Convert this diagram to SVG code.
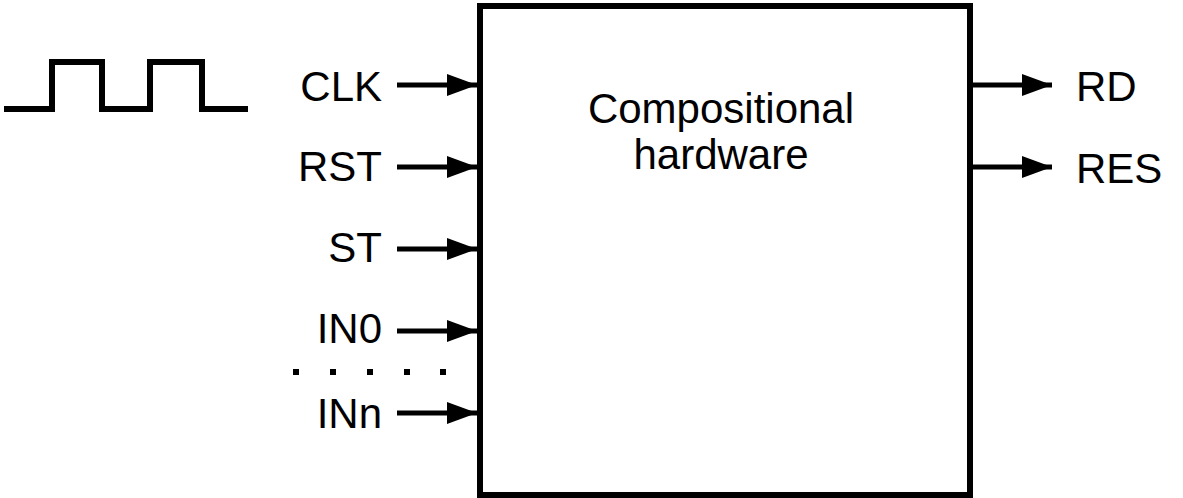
<svg xmlns="http://www.w3.org/2000/svg" width="1183" height="498" viewBox="0 0 1183 498">
<style>
.lbl{font-family:"Liberation Sans",Arial,sans-serif;font-size:42px;fill:#000}
.wire{stroke:#000;stroke-width:5;fill:none}
</style>
<defs>
<marker id="ah" markerUnits="userSpaceOnUse" markerWidth="30" markerHeight="22" refX="30" refY="11" orient="auto">
<path d="M0,0 L30,11 L0,22 Z" fill="#000"/>
</marker>
</defs>
<rect width="1183" height="498" fill="#fff"/>
<g id="clock">
<path d="M4,109 H52 V62 H102 V109 H150 V62 H202 V109 H248" stroke="#000" stroke-width="6" fill="none" stroke-linejoin="miter"/>
</g>
<g id="block">
<rect x="480" y="6" width="490" height="489" fill="none" stroke="#000" stroke-width="6"/>
<text class="lbl" x="721" y="123" text-anchor="middle">Compositional</text>
<text class="lbl" x="721" y="169" text-anchor="middle">hardware</text>
</g>
<g id="connectors">
<line class="wire" x1="397" y1="85" x2="477" y2="85" marker-end="url(#ah)"/>
<line class="wire" x1="397" y1="167" x2="477" y2="167" marker-end="url(#ah)"/>
<line class="wire" x1="397" y1="249" x2="477" y2="249" marker-end="url(#ah)"/>
<line class="wire" x1="397" y1="331" x2="477" y2="331" marker-end="url(#ah)"/>
<line class="wire" x1="397" y1="413" x2="477" y2="413" marker-end="url(#ah)"/>
<line class="wire" x1="973" y1="85" x2="1052" y2="85" marker-end="url(#ah)"/>
<line class="wire" x1="973" y1="167" x2="1052" y2="167" marker-end="url(#ah)"/>
</g>
<g id="in-clk"><text class="lbl" x="382" y="101" text-anchor="end">CLK</text></g>
<g id="in-rst"><text class="lbl" x="382" y="181" text-anchor="end">RST</text></g>
<g id="in-st"><text class="lbl" x="382" y="262" text-anchor="end">ST</text></g>
<g id="in-in0"><text class="lbl" x="382" y="343" text-anchor="end">IN0</text></g>
<g id="in-inn"><text class="lbl" x="382" y="428" text-anchor="end">INn</text></g>
<g id="out-rd"><text class="lbl" x="1076" y="101">RD</text></g>
<g id="out-res"><text class="lbl" x="1076" y="183">RES</text></g>
<g id="dots" fill="#000">
<rect x="293" y="369" width="6" height="6"/>
<rect x="330" y="369" width="6" height="6"/>
<rect x="367" y="369" width="6" height="6"/>
<rect x="404" y="369" width="6" height="6"/>
<rect x="440" y="369" width="6" height="6"/>
</g>
</svg>
